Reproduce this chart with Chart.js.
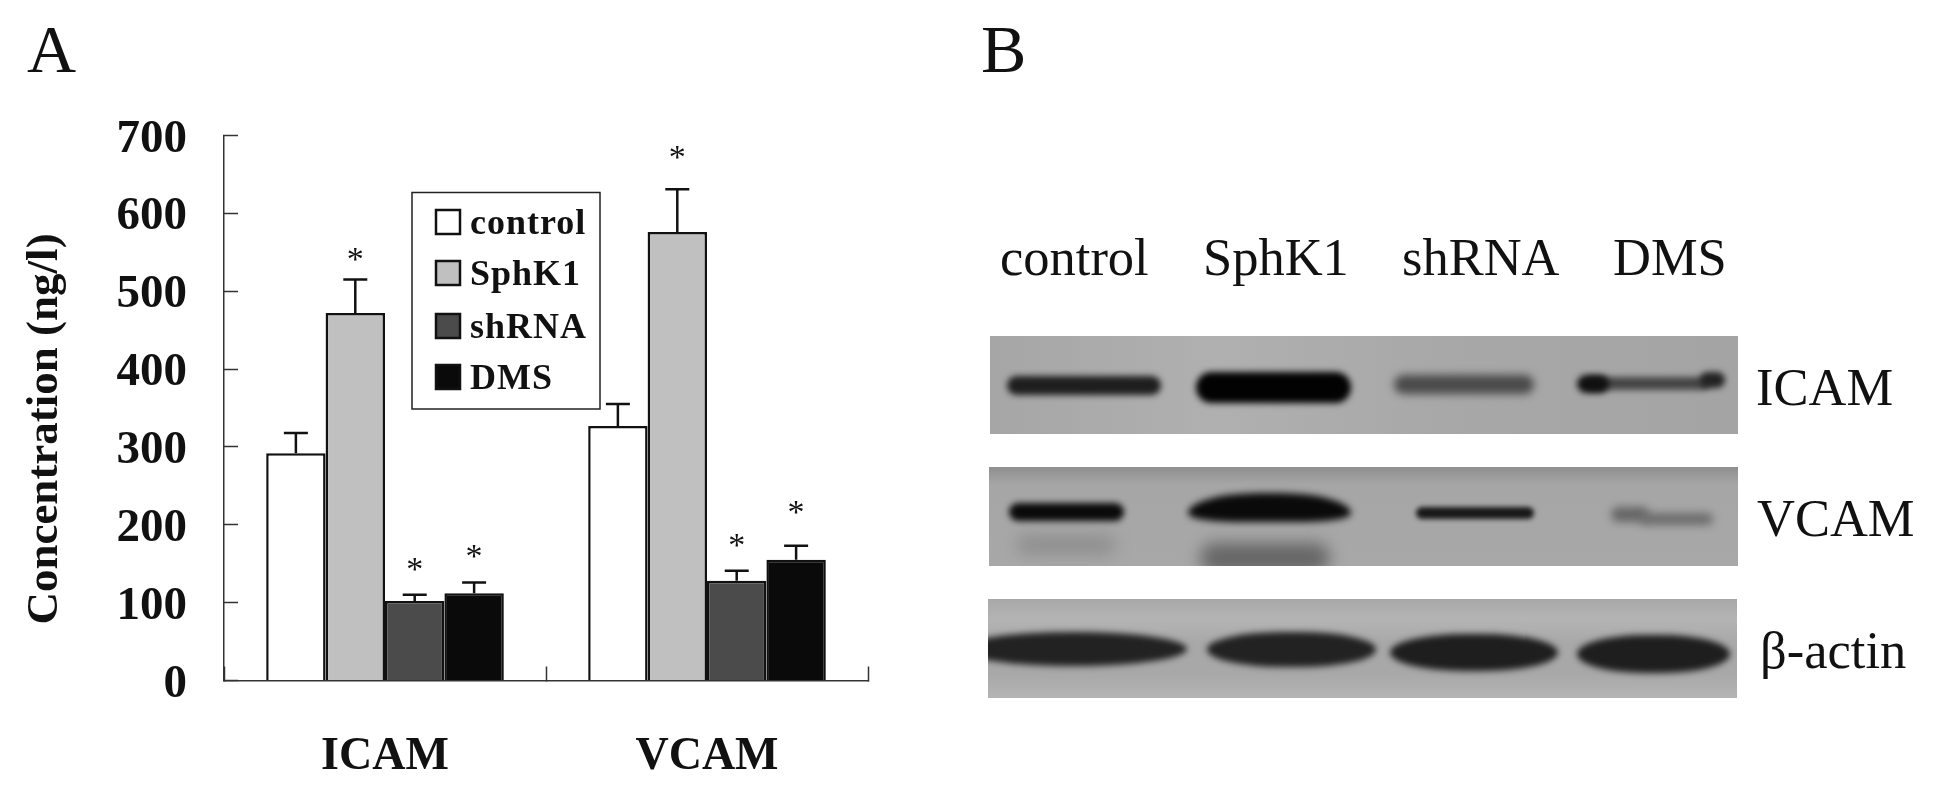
<!DOCTYPE html>
<html>
<head>
<meta charset="utf-8">
<title>ICAM and VCAM concentration</title>
<script src="https://cdn.jsdelivr.net/npm/chart.js@4"></script>
<style>
  html, body { margin: 0; padding: 0; background: #fff; overflow: hidden; }
  #page { position: relative; width: 1937px; height: 794px; overflow: hidden; font-family: "Liberation Serif", serif; color: #111; }
  #chartA { position: absolute; left: 0; top: 0; }
  .letter { position: absolute; top: 11px; font-size: 68px; line-height: 76px; }
  .lane, .side { position: absolute; font-size: 52.5px; line-height: 60px; white-space: nowrap; }
  .blot { position: absolute; overflow: hidden; }
  .band { position: absolute; }
</style>
</head>
<body>
<div id="page">
  <canvas id="chartA" width="940" height="794"></canvas>
  <div class="letter" style="left:27px">A</div>
  <div class="letter" style="left:981px">B</div>
  <div class="lane" style="left:1000px;top:227px">control</div>
  <div class="lane" style="left:1203px;top:227px">SphK1</div>
  <div class="lane" style="left:1402px;top:227px">shRNA</div>
  <div class="lane" style="left:1613px;top:227px">DMS</div>
  <div class="side" style="left:1756px;top:357px">ICAM</div>
  <div class="side" style="left:1757px;top:488px">VCAM</div>
  <div class="side" style="left:1760px;top:620px">β-actin</div>
  <div id="blots"></div>
</div>
<script>
// ---- Panel A data ----
const categories = ['ICAM', 'VCAM'];
const seriesNames = ['control', 'SphK1', 'shRNA', 'DMS'];
const controlValues = [292, 327];
const sphk1Values = [472, 576];
const shrnaValues = [102, 128];
const dmsValues = [112, 155];
const controlErrors = [26, 28];
const sphk1Errors = [43, 55];
const shrnaErrors = [8, 13];
const dmsErrors = [14, 18];
// height of the * marks, in axis units (null = no mark)
const controlStars = [null, null];
const sphk1Stars = [547, 677];
const shrnaStars = [148, 179];
const dmsStars = [165, 221];
const yTicks = [0, 100, 200, 300, 400, 500, 600, 700];

const errorSets = [controlErrors, sphk1Errors, shrnaErrors, dmsErrors];
const starSets = [controlStars, sphk1Stars, shrnaStars, dmsStars];
const inkColor = '#111';
const serif = '"Liberation Serif", serif';

// Error whiskers and asterisks, positioned from the bars and the y scale
const barExtras = {
  id: 'barExtras',
  afterDatasetsDraw(chart) {
    const ctx = chart.ctx;
    const y = chart.scales.y;
    ctx.save();
    ctx.strokeStyle = inkColor;
    ctx.fillStyle = inkColor;
    ctx.lineWidth = 2.5;
    ctx.textAlign = 'center';
    ctx.textBaseline = 'middle';
    ctx.font = '34px ' + serif;
    chart.data.datasets.forEach((ds, i) => {
      chart.getDatasetMeta(i).data.forEach((bar, j) => {
        const top = y.getPixelForValue(ds.data[j] + errorSets[i][j]);
        ctx.beginPath();
        ctx.moveTo(bar.x, bar.y);
        ctx.lineTo(bar.x, top);
        ctx.moveTo(bar.x - 12, top);
        ctx.lineTo(bar.x + 12, top);
        ctx.stroke();
        if (starSets[i][j] !== null) {
          ctx.fillText('*', bar.x, y.getPixelForValue(starSets[i][j]) + 6);
        }
      });
    });
    ctx.restore();
  }
};

// Boxed legend sitting inside the plot, plus the off-centre y title
const panelText = {
  id: 'panelText',
  afterDraw(chart) {
    const ctx = chart.ctx;
    ctx.save();
    ctx.fillStyle = '#fff';
    ctx.strokeStyle = '#222';
    ctx.lineWidth = 1.5;
    ctx.fillRect(412, 192.5, 188, 216.5);
    ctx.strokeRect(412, 192.5, 188, 216.5);
    const rows = [222, 273, 326, 377];
    chart.data.datasets.forEach((ds, i) => {
      ctx.fillStyle = ds.backgroundColor;
      ctx.strokeStyle = inkColor;
      ctx.lineWidth = 2.5;
      ctx.fillRect(436, rows[i] - 12, 24, 24);
      ctx.strokeRect(436, rows[i] - 12, 24, 24);
      ctx.fillStyle = inkColor;
      ctx.font = 'bold 36px ' + serif;
      ctx.letterSpacing = '1px';
      ctx.textAlign = 'left';
      ctx.textBaseline = 'middle';
      ctx.fillText(ds.label, 470, rows[i] + 3);
    });
    ctx.letterSpacing = '0px';
    ctx.translate(45, 429);
    ctx.rotate(-Math.PI / 2);
    ctx.textAlign = 'center';
    ctx.textBaseline = 'middle';
    ctx.font = 'bold 45px ' + serif;
    ctx.fillText('Concentration (ng/l)', 0, 0);
    ctx.restore();
  }
};

function barSet(index, values, color) {
  return {
    label: seriesNames[index],
    data: values,
    backgroundColor: color,
    borderColor: inkColor,
    borderWidth: 2.5,
    categoryPercentage: 0.738,
    barPercentage: 1
  };
}

new Chart(document.getElementById('chartA').getContext('2d'), {
  type: 'bar',
  data: {
    labels: categories,
    datasets: [
      barSet(0, controlValues, '#ffffff'),
      barSet(1, sphk1Values, '#c0c0c0'),
      barSet(2, shrnaValues, '#4b4b4b'),
      barSet(3, dmsValues, '#0a0a0a')
    ]
  },
  options: {
    responsive: false,
    animation: false,
    layout: { padding: { top: 135.5, right: 72 } },
    plugins: { legend: { display: false }, tooltip: { enabled: false } },
    scales: {
      x: {
        afterFit: scale => { scale.height = 113.5; },
        border: { color: '#333', width: 1.5 },
        grid: { drawOnChartArea: false, tickLength: -14, tickColor: '#333', tickWidth: 1.5 },
        ticks: { color: inkColor, padding: 63, maxRotation: 0, font: { family: serif, size: 46, weight: 'bold' } }
      },
      y: {
        min: 0,
        max: 700,
        afterFit: scale => { scale.width = 224; },
        afterBuildTicks: scale => { scale.ticks = yTicks.map(value => ({ value })); },
        border: { color: '#333', width: 1.5 },
        grid: { drawOnChartArea: false, tickLength: -14, tickColor: '#333', tickWidth: 1.5 },
        ticks: { color: inkColor, padding: 51, labelOffset: 4, font: { family: serif, size: 47, weight: 'bold' } }
      }
    }
  },
  plugins: [barExtras, panelText]
});

// ---- Panel B: western blot strips, CSS only ----
// band = [x, y, w, h, color, blur, radius] in page pixels
const pill = '999px';
const lens = '50%';
const blotStrips = [
  { left: 990, top: 336, width: 748, height: 98, bg: 'linear-gradient(90deg,#a6a6a6,#b0b0b0 30%,#a8a8a8 60%,#a4a4a4)', bands: [
    [1007, 376, 154, 19, '#1e1e1e', 3, pill],
    [1196, 372, 155, 31, '#020202', 3, pill],
    [1394, 375, 140, 19, '#4a4a4a', 4, pill],
    [1585, 377, 125, 13, '#444', 3, pill],
    [1577, 375, 32, 18, '#101010', 3, pill],
    [1700, 372, 25, 16, '#222', 3, pill]
  ] },
  { left: 989, top: 467, width: 749, height: 99, bg: 'linear-gradient(180deg,#8f8f8f,#a6a6a6 18%,#a8a8a8)', bands: [
    [1016, 535, 100, 20, '#8f8f8f', 8, pill],
    [1200, 543, 130, 30, '#666', 8, pill],
    [1009, 503, 115, 18, '#0a0a0a', 3, pill],
    [1188, 493, 163, 29, '#0a0a0a', 3.5, '45% 45% 30% 30% / 70% 70% 30% 30%'],
    [1416, 507, 118, 12, '#181818', 2.5, pill],
    [1611, 507, 38, 15, '#666', 4, pill],
    [1640, 513, 73, 12, '#6c6c6c', 4, pill]
  ] },
  { left: 988, top: 599, width: 749, height: 99, bg: 'linear-gradient(180deg,#a8a8a8,#b4b4b4 20%,#a8a8a8 45%,#a8a8a8 75%,#b4b4b4)', bands: [
    [960, 632, 227, 34, '#222', 3, lens],
    [1207, 632, 169, 35, '#222', 3, '50%/55%'],
    [1390, 634, 168, 37, '#1e1e1e', 3, '45%/50%'],
    [1577, 635, 153, 38, '#1e1e1e', 3, '45%/50%']
  ] }
];

const blots = document.getElementById('blots');
blotStrips.forEach(strip => {
  const el = document.createElement('div');
  el.className = 'blot';
  el.style.cssText = `left:${strip.left}px;top:${strip.top}px;width:${strip.width}px;height:${strip.height}px;background:${strip.bg}`;
  strip.bands.forEach(([x, y, w, h, color, blur, radius]) => {
    const band = document.createElement('div');
    band.className = 'band';
    band.style.cssText = `left:${x - strip.left}px;top:${y - strip.top}px;width:${w}px;height:${h}px;background:${color};filter:blur(${blur}px);border-radius:${radius}`;
    el.appendChild(band);
  });
  blots.appendChild(el);
});
</script>
</body>
</html>
